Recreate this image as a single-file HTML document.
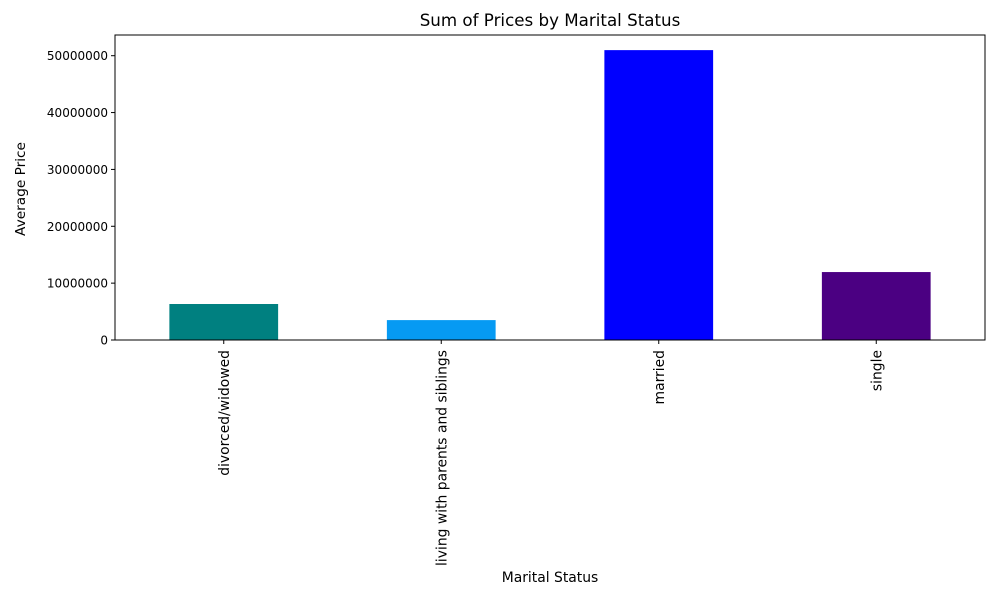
<!DOCTYPE html>
<html><head><meta charset="utf-8"><style>
body{margin:0;background:#fff;font-family:"Liberation Sans","DejaVu Sans",sans-serif;}
</style></head><body>
<svg id="chart" width="1000" height="600" xmlns="http://www.w3.org/2000/svg" font-family="DejaVu Sans, Liberation Sans, sans-serif">
<text x="550" y="26" font-size="16.7" text-anchor="middle">Sum of Prices by Marital Status</text>
<text x="550" y="582" font-size="13.9" text-anchor="middle">Marital Status</text>
<text transform="translate(25,189) rotate(-90)" font-size="13.7" text-anchor="middle">Average Price</text>
<g id="bars"></g><g id="axes"></g>
</svg>
<script>
const categories=["divorced/widowed","living with parents and siblings","married","single"];
const values=[6330000,3500000,50980000,11950000];
const colors=["#008080","#069af3","#0000ff","#4b0082"];
const yTicks=[0,10000000,20000000,30000000,40000000,50000000];
const L=115,R=985,T=35,B=340;
const step=(R-L)/categories.length;
const xc=i=>L+step*(i+0.5);
const y=v=>B-v*(B-55.7)/50000000;
const NS="http://www.w3.org/2000/svg";
const bars=document.getElementById('bars'),axes=document.getElementById('axes');
function mk(tag,attrs,parent){const e=document.createElementNS(NS,tag);for(const k in attrs)e.setAttribute(k,attrs[k]);parent.appendChild(e);return e;}
categories.forEach((c,i)=>{
 const r=mk('rect',{x:xc(i)-step/4,y:y(values[i]),width:step/2,height:B-y(values[i]),fill:colors[i]},bars);
 
 
 const t=mk('line',{x1:xc(i),x2:xc(i),y1:B,y2:B+4,stroke:'#000'},axes);
 
 
 const lb=mk('text',{transform:`translate(${xc(i)+5},${B+10}) rotate(-90)`,'font-size':13.9,'text-anchor':'end'},axes);
 lb.textContent=c;
 
 
});
yTicks.forEach(v=>{
 const t=mk('line',{x1:L-4,x2:L,y1:y(v),y2:y(v),stroke:'#000'},axes);
 
 
 const lb=mk('text',{x:L-7,y:y(v)+4.5,'font-size':12,'text-anchor':'end'},axes);
 lb.textContent=String(v);
 
 
});
const fr=mk('rect',{x:L,y:T,width:R-L,height:B-T,fill:'none',stroke:'#000','stroke-width':1},axes);


</script>
</body></html>
